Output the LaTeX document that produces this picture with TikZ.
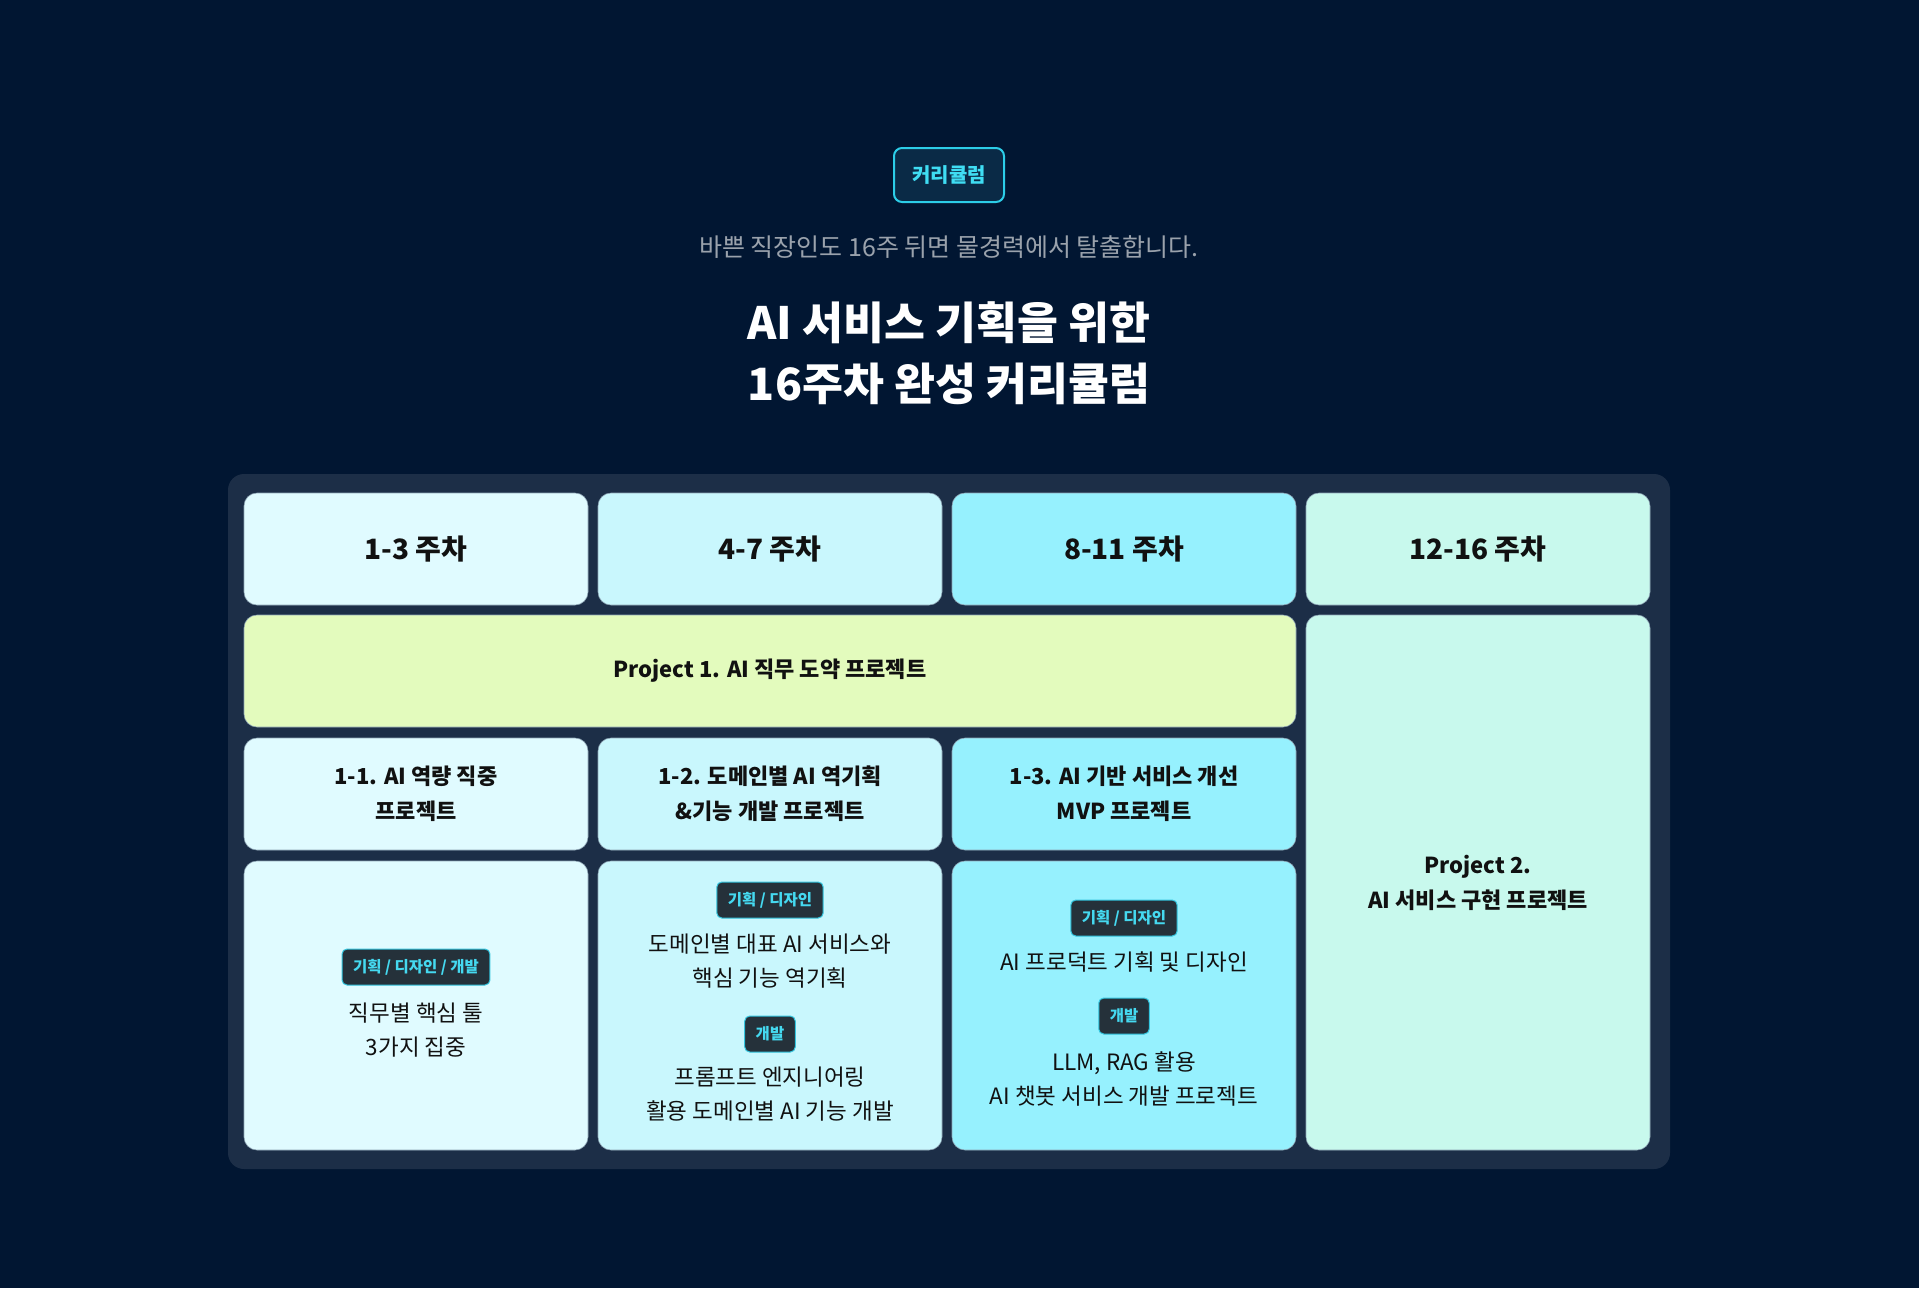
\documentclass[tikz,border=0pt]{standalone}
\usepackage{fontspec}
\setmainfont{Noto Sans CJK KR}
\usepackage{tikz}

\definecolor{bgnavy}{HTML}{011632}
\definecolor{panelbg}{HTML}{1C2E47}
\definecolor{badgefill}{HTML}{0A2A46}
\definecolor{badgeline}{HTML}{2CCDE8}
\definecolor{badgeink}{HTML}{3FDDF3}
\definecolor{subgray}{HTML}{9AA2AC}
\definecolor{wkone}{HTML}{E0FBFF}
\definecolor{wktwo}{HTML}{C9F7FD}
\definecolor{wkthree}{HTML}{96F1FE}
\definecolor{wkfour}{HTML}{C8F9ED}
\definecolor{projlime}{HTML}{E3FBBD}
\definecolor{cellline}{HTML}{8FA6B6}
\definecolor{cellink}{HTML}{111111}
\definecolor{tagfill}{HTML}{25313A}
\definecolor{tagline}{HTML}{34C6DF}
\definecolor{tagink}{HTML}{45D9F0}

\tikzset{
  cell/.style={draw=cellline, line width=0.6pt, rounded corners=13pt, minimum width=344pt, minimum height=112pt,
    anchor=north west, inner sep=0pt, outer sep=0pt, align=center, text=cellink},
  weekcell/.style={cell, font=\fontsize{28}{34}\selectfont\bfseries},
  subcell/.style={cell, font=\fontsize{22}{35}\selectfont\bfseries},
  tagbox/.style={draw=tagline, fill=tagfill, line width=1pt, rounded corners=5pt, inner xsep=11pt, inner ysep=0pt,
    minimum height=36pt, text=tagink, font=\fontsize{15.5}{18}\selectfont\bfseries},
  bodytxt/.style={align=center, inner sep=0pt, text=cellink, font=\fontsize{22.5}{34}\selectfont},
}

\begin{document}
\begin{tikzpicture}[x=1pt, y=-1pt]
            \useasboundingbox (0,0) rectangle (1919,1288);
            \fill[bgnavy] (0,0) rectangle (1919,1288); %배경
            \node[draw=badgeline, fill=badgefill, line width=2pt, rounded corners=8pt, minimum width=110pt, minimum height=54pt,
              text=badgeink, font=\fontsize{20}{24}\selectfont\bfseries] (badge) at (949,175) {커리큘럼}; %뱃지
            \node[text=subgray, font=\fontsize{25}{30}\selectfont] (lead) at (949,247) {바쁜 직장인도 16주 뒤면 물경력에서 탈출합니다.};
            \node[text=white, align=center, font=\fontsize{44.5}{61}\selectfont\bfseries] (title) at (949,353) {AI 서비스 기획을 위한\\16주차 완성 커리큘럼}; %제목
            \fill[panelbg, rounded corners=16pt] (228,474) rectangle (1670,1169); %표 배경
            % 주차
            \node[weekcell, fill=wkone] (w1) at (244,493) {1-3 주차};
            \node[weekcell, fill=wktwo] (w2) at (598,493) {4-7 주차};
            \node[weekcell, fill=wkthree] (w3) at (952,493) {8-11 주차};
            \node[weekcell, fill=wkfour] (w4) at (1306,493) {12-16 주차};
            % 프로젝트
            \node[subcell, fill=projlime, minimum width=1052pt] (p1) at (244,615) {Project 1. AI 직무 도약 프로젝트};
            \node[subcell, fill=wkfour, minimum height=535pt] (p2) at (1306,615) {Project 2.\\AI 서비스 구현 프로젝트};
            \node[subcell, fill=wkone] (s1) at (244,738) {1-1. AI 역량 직중\\프로젝트};
            \node[subcell, fill=wktwo] (s2) at (598,738) {1-2. 도메인별 AI 역기획\\\&기능 개발 프로젝트};
            \node[subcell, fill=wkthree] (s3) at (952,738) {1-3. AI 기반 서비스 개선\\MVP 프로젝트};
            % 세부 내용
            \node[cell, fill=wkone, minimum height=289pt] (b1) at (244,861) {};
            \node[cell, fill=wktwo, minimum height=289pt] (b2) at (598,861) {};
            \node[cell, fill=wkthree, minimum height=289pt] (b3) at (952,861) {};
            \node[tagbox] (t1) at (416,967) {기획 / 디자인 / 개발};
            \node[bodytxt] (d1) at (416,1030) {직무별 핵심 툴\\3가지 집중};
            \node[tagbox] (t2a) at (770,900) {기획 / 디자인};
            \node[bodytxt] (d2a) at (770,961.5) {도메인별 대표 AI 서비스와\\핵심 기능 역기획};
            \node[tagbox] (t2b) at (770,1034) {개발};
            \node[bodytxt] (d2b) at (770,1094.5) {프롬프트 엔지니어링\\활용 도메인별 AI 기능 개발};
            \node[tagbox] (t3a) at (1124,918) {기획 / 디자인};
            \node[bodytxt] (d3a) at (1124,962) {AI 프로덕트 기획 및 디자인};
            \node[tagbox] (t3b) at (1124,1016) {개발};
            \node[bodytxt] (d3b) at (1124,1078.5) {LLM, RAG 활용\\AI 챗봇 서비스 개발 프로젝트};
        \end{tikzpicture}
\end{document}
